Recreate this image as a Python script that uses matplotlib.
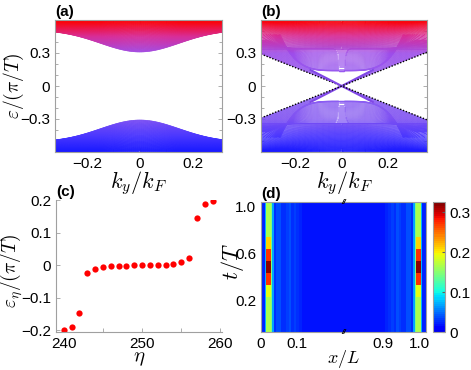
import numpy as np
import matplotlib
matplotlib.use("Agg")
import matplotlib.pyplot as plt
from matplotlib.collections import LineCollection
from matplotlib.colors import LinearSegmentedColormap, ListedColormap, Normalize
from matplotlib.ticker import MultipleLocator

plt.rcParams["font.family"] = ["Liberation Sans", "DejaVu Sans"]
plt.rcParams["mathtext.fontset"] = "cm"

# ---- panel (a): gapped quasienergy spectrum
gap_a = 0.31        # lowest level at ky = 0
edge_a = 0.51       # lowest level at large |ky|
width_a = 0.21      # ky width of the dip
top_a = 0.60        # band top
n_levels_a = 70

# ---- panel (b): spectrum with crossing edge modes
flat_b = 0.14          # flat sub-band at ky = 0
knee_b = (0.24, 0.35)  # where the inner sub-bands bunch up
inner_top_b = 0.34
mid_b = 0.335          # lowest upper sub-band at ky = 0
upper_curv_b = 0.75
fan_top_b = 0.42
cone_slope_b = 0.83    # dotted continuum edge
mode_slope_b = 1.08    # edge-mode slope
mode_end_b = 0.135     # where the edge modes meet the flat band
n_inner_b = 22
n_upper_b = 55
n_fan_b = 24

# ---- panel (c): quasienergies around zero
eta = np.arange(240, 260)
eps_eta = [-0.200, -0.190, -0.148, -0.023, -0.012, -0.006, -0.003, -0.002, -0.001, -0.0003,
           0.0002, 0.0005, 0.001, 0.002, 0.004, 0.009, 0.021, 0.146, 0.188, 0.196]

# ---- panel (d): |psi|^2 map, left half columns (pixel edges across the 165 px axis)
col_edges_px = [0, 3.8, 5.4, 9.9, 11.0, 12.7, 15, 17.5, 20, 22.5, 25, 27.5, 30, 32.5, 35, 38, 41, 82.5]
col_values = [0.022, 0.075, None, 0.145, 0.07, 0.028, 0.036, 0.038, 0.026, 0.026, 0.033,
              0.036, 0.028, 0.032, 0.026, 0.023, 0.02]
core_values = [0.165, 0.165, 0.165, 0.19, 0.27, 0.315, 0.27, 0.21, 0.165, 0.165, 0.165]
t_range = (-0.07, 1.04)
cbar_max = 0.325


band_cmap = LinearSegmentedColormap.from_list("band", [
    (0.00, (0.10, 0.10, 1.00)),
    (0.12, (0.30, 0.22, 1.00)),
    (0.25, (0.50, 0.32, 0.95)),
    (0.50, (0.58, 0.40, 0.95)),
    (0.75, (0.62, 0.30, 0.92)),
    (0.88, (0.85, 0.18, 0.60)),
    (1.00, (1.00, 0.00, 0.00)),
])
band_norm = Normalize(-0.6, 0.6)


def add_bands(ax, ky, curves, lw=0.45):
    segs, vals = [], []
    for eps in curves:
        pts = np.column_stack([ky, eps])
        s = np.stack([pts[:-1], pts[1:]], axis=1)
        ok = np.isfinite(s).all(axis=(1, 2))
        segs.append(s[ok])
        vals.append((0.5 * (eps[:-1] + eps[1:]))[ok])
    lc = LineCollection(np.concatenate(segs), cmap=band_cmap, norm=band_norm,
                        linewidths=lw, capstyle="round")
    lc.set_array(np.concatenate(vals))
    ax.add_collection(lc)


def style_box(ax):
    for sp in ax.spines.values():
        sp.set_color("#a0a0a0")
        sp.set_linewidth(0.8)
    ax.tick_params(which="both", direction="in", color="#a0a0a0", labelsize=11,
                   top=True, right=True, length=3, width=0.6)
    ax.tick_params(which="minor", length=2)


fig = plt.figure(figsize=(4.71, 3.70), dpi=100)
W, H = 471.0, 370.0


def px_axes(left, top, right, bottom):
    return fig.add_axes([left / W, 1 - bottom / H, (right - left) / W, (bottom - top) / H])


ax_a = px_axes(55, 20, 222, 152)
ax_b = px_axes(261, 20, 427, 152)
ax_c = px_axes(56, 200, 222, 332)
ax_d = px_axes(261, 202, 426, 332)
ax_cb = px_axes(433, 202, 445, 332)

# ---------------- (a)
ky = np.linspace(-0.4, 0.4, 321)
low = edge_a - (edge_a - gap_a) * np.exp(-(ky / width_a) ** 2)
curves = []
for f in np.linspace(0, 1, n_levels_a):
    e = low + (top_a - low) * f
    curves += [e, -e]
add_bands(ax_a, ky, curves, lw=0.5)
ax_a.set_xlim(-0.32, 0.31)
ax_a.set_ylim(-0.6, 0.6)

# ---------------- (b)
ky = np.linspace(-0.4, 0.4, 401)
aky = np.abs(ky)
kk, ek = knee_b
bowl0 = flat_b + (ek - flat_b) * (aky / kk) ** 4
curves = []
for a in np.linspace(flat_b, inner_top_b, n_inner_b):
    e = a + (ek - a) * (aky / kk) ** 4
    e = np.where(e > 0.47, np.nan, e)
    curves += [e, -e]
for a in np.linspace(mid_b, top_a, n_upper_b):
    s = (a - mid_b) / (top_a - mid_b)
    e = a + 4 * upper_curv_b * s * (1 - s) * ky ** 2
    curves += [e, -e]
for d in np.linspace(0.004, 0.15, n_fan_b):
    e = cone_slope_b * aky + d
    hole = (e > bowl0) | (e > fan_top_b) | ((aky < mode_end_b) & (e > mode_slope_b * aky))
    e = np.where(hole, np.nan, e)
    curves += [e, -e]
add_bands(ax_b, ky, curves)
edge0 = np.where(bowl0 > 0.47, np.nan, bowl0)
add_bands(ax_b, ky, [edge0, -edge0], lw=1.0)
kx = np.linspace(-mode_end_b, mode_end_b, 50)
for sgn in (1, -1):
    ax_b.plot(kx, sgn * mode_slope_b * kx, color=(0.50, 0.28, 0.90), lw=1.5)
    ax_b.plot(ky, sgn * cone_slope_b * aky, color="k", lw=1.0, ls=(0, (1, 1.2)))
ax_b.set_xlim(-0.35, 0.37)
ax_b.set_ylim(-0.6, 0.6)

for ax in (ax_a, ax_b):
    style_box(ax)
    ax.set_yticks([-0.3, 0, 0.3])
    ax.set_yticklabels(["\u22120.3", "0", "0.3"])
    ax.yaxis.set_minor_locator(MultipleLocator(0.1))
    ax.set_xticks([-0.2, 0, 0.2])
    ax.set_xticklabels(["\u22120.2", "0", "0.2"])
    ax.xaxis.set_minor_locator(MultipleLocator(0.1))
    ax.set_xlabel(r"$k_y/k_F$", fontsize=16, labelpad=-1)
ax_a.set_ylabel(r"$\varepsilon/(\pi/T)$", fontsize=14)
ax_a.yaxis.set_label_coords(-0.175, 0.5)

# ---------------- (c)
ax_c.plot(eta, eps_eta, "o", color="red", ms=4.5, mec="none")
ax_c.set_xlim(239, 260.2)
ax_c.set_ylim(-0.205, 0.2)
for side in ("top", "right"):
    ax_c.spines[side].set_visible(False)
for side in ("left", "bottom"):
    ax_c.spines[side].set_color("#a0a0a0")
ax_c.tick_params(which="both", direction="in", color="#a0a0a0", labelsize=11, length=3, width=0.6)
ax_c.set_xticks([240, 250, 260])
ax_c.xaxis.set_minor_locator(MultipleLocator(5))
ax_c.set_yticks([-0.2, -0.1, 0, 0.1, 0.2])
ax_c.set_yticklabels(["\u22120.2", "\u22120.1", "0", "0.1", "0.2"])
ax_c.set_xlabel(r"$\eta$", fontsize=15, labelpad=-1)
ax_c.set_ylabel(r"$\varepsilon_\eta/(\pi/T)$", fontsize=14)
ax_c.yaxis.set_label_coords(-0.185, 0.46)

# ---------------- (d)
left_edges = np.array(col_edges_px)
x_edges = np.concatenate([left_edges, 165 - left_edges[::-1][1:]]) / 165.0
t_edges = np.linspace(t_range[0], t_range[1], len(core_values) + 1)
left_cols = []
for v in col_values:
    left_cols.append(np.array(core_values) if v is None else np.full(len(core_values), v))
cols = left_cols + left_cols[::-1]
field = np.column_stack(cols)
jet = plt.get_cmap("jet")
heat_cmap = ListedColormap(jet(np.linspace(0.1, 1.0, 64)))
mesh = ax_d.pcolormesh(x_edges, t_edges, field, cmap=heat_cmap, vmin=0, vmax=cbar_max,
                       shading="flat")
ax_d.set_xlim(0, 1)
ax_d.set_ylim(t_range)
style_box(ax_d)
ax_d.tick_params(which="both", top=False, right=False, length=0)
ax_d.set_xticks([0, 0.216, 0.738, 0.958])
ax_d.set_xticklabels(["0", "0.1", "0.9", "1.0"])
ax_d.set_yticks([0.2, 0.6, 1.0])
ax_d.set_yticklabels(["0.2", "0.6", "1.0"])
ax_d.set_xlabel(r"$x/L$", fontsize=13, labelpad=-2)
ax_d.set_ylabel(r"$t/T$", fontsize=16)
ax_d.yaxis.set_label_coords(-0.09, 0.54)
for yy in (1.0, 0.0):
    ax_d.text(0.5, yy, "//", transform=ax_d.transAxes, ha="center", va="center",
              fontsize=6, fontweight="bold", style="italic")

cb = fig.colorbar(mesh, cax=ax_cb)
cb.set_ticks([0, 0.1, 0.2, 0.3])
cb.set_ticklabels(["0", "0.1", "0.2", "0.3"])
cb.outline.set_edgecolor("#a0a0a0")
ax_cb.tick_params(labelsize=11, direction="in", color="#606060", length=2)

# panel labels
for ax, lab in ((ax_a, "(a)"), (ax_b, "(b)"), (ax_c, "(c)"), (ax_d, "(d)")):
    ax.text(0.0, 1.01, lab, transform=ax.transAxes, ha="left", va="bottom",
            fontsize=11, fontweight="bold")

fig.savefig("out.png", dpi=100)
